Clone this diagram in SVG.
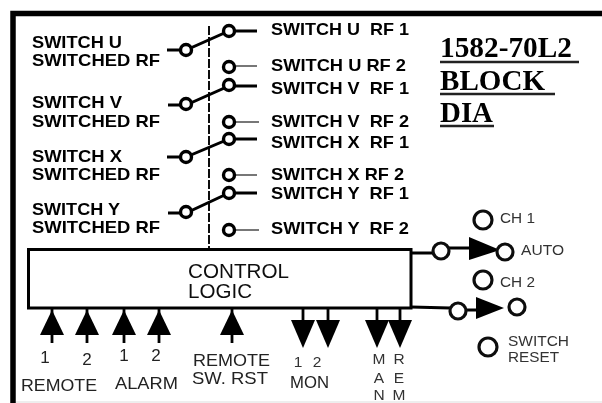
<svg xmlns="http://www.w3.org/2000/svg" width="602" height="403" viewBox="0 0 602 403">
<defs>
<filter id="soft" x="-5%" y="-5%" width="110%" height="110%"><feGaussianBlur stdDeviation="0.75"/></filter>
<g id="up"><path d="M0 -26V8" class="ln"/><path d="M-12 0H12L0 -25Z" fill="#000"/></g>
<g id="down"><path d="M0 -27V-10" class="ln"/><path d="M-12 -15H12L0 13Z" fill="#000"/></g>
</defs>
<style>
text{font-family:"Liberation Sans",Arial,sans-serif;fill:#222;white-space:pre}
.b{font-size:17px;font-weight:bold;fill:#000}
.n{font-size:17px;fill:#222}
.s{font-size:15.5px;fill:#333}
.k{font-size:20px;fill:#111}
.t{font-family:"Liberation Serif","Times New Roman",serif;font-size:29px;font-weight:bold;fill:#000}
.ln{stroke:#000;stroke-width:2.8;fill:none}
.lg{stroke:#777;stroke-width:2;fill:none}
.c{stroke:#000;stroke-width:3.4;fill:#fff}
.o{stroke:#111;stroke-width:3.2;fill:#fff}
</style>
<rect width="602" height="403" fill="#fff"/>
<g filter="url(#soft)">
<g id="frame"><path d="M13 403V13.5H602" fill="none" stroke="#000" stroke-width="5.5"/><path d="M16 402H602" stroke="#ddd" stroke-width="1"/></g>
<g id="connectors">
<path d="M209 26V249" stroke="#111" stroke-width="2" stroke-dasharray="9 2" fill="none"/>
<path class="ln" d="M167 50H186L229 31H257M168 105H186L229 86H257M167 157H186L229 139H257M168 213H186L229 193H257"/>
<path class="lg" d="M229 66H257M229 122H259M229 175H257M229 230H259"/>
<path class="ln" d="M411 253H433M449 248H470M411 307L450 308M466 310H476"/>
</g>
<g id="switch-u"><text class="b" x="32" y="48" textLength="90" lengthAdjust="spacingAndGlyphs">SWITCH U</text><text class="b" x="32" y="66" textLength="128" lengthAdjust="spacingAndGlyphs">SWITCHED RF</text><circle class="c" cx="186" cy="50" r="5.5"/><circle class="c" cx="229" cy="31" r="5.5"/><circle class="c" cx="229" cy="67" r="5.5"/><text class="b" x="271" y="35" textLength="138" lengthAdjust="spacingAndGlyphs">SWITCH U  RF 1</text><text class="b" x="271" y="71" textLength="135" lengthAdjust="spacingAndGlyphs">SWITCH U RF 2</text></g>
<g id="switch-v"><text class="b" x="32" y="108" textLength="90" lengthAdjust="spacingAndGlyphs">SWITCH V</text><text class="b" x="32" y="127" textLength="128" lengthAdjust="spacingAndGlyphs">SWITCHED RF</text><circle class="c" cx="186" cy="104" r="5.5"/><circle class="c" cx="229" cy="85" r="5.5"/><circle class="c" cx="229" cy="122" r="5.5"/><text class="b" x="271" y="94" textLength="138" lengthAdjust="spacingAndGlyphs">SWITCH V  RF 1</text><text class="b" x="271" y="127" textLength="138" lengthAdjust="spacingAndGlyphs">SWITCH V  RF 2</text></g>
<g id="switch-x"><text class="b" x="32" y="162" textLength="90" lengthAdjust="spacingAndGlyphs">SWITCH X</text><text class="b" x="32" y="180" textLength="128" lengthAdjust="spacingAndGlyphs">SWITCHED RF</text><circle class="c" cx="186" cy="157" r="5.5"/><circle class="c" cx="229" cy="139" r="5.5"/><circle class="c" cx="229" cy="175" r="5.5"/><text class="b" x="271" y="148" textLength="138" lengthAdjust="spacingAndGlyphs">SWITCH X  RF 1</text><text class="b" x="271" y="180" textLength="133" lengthAdjust="spacingAndGlyphs">SWITCH X RF 2</text></g>
<g id="switch-y"><text class="b" x="32" y="215" textLength="88" lengthAdjust="spacingAndGlyphs">SWITCH Y</text><text class="b" x="32" y="233" textLength="128" lengthAdjust="spacingAndGlyphs">SWITCHED RF</text><circle class="c" cx="186" cy="212" r="5.5"/><circle class="c" cx="229" cy="193" r="5.5"/><circle class="c" cx="229" cy="230" r="5.5"/><text class="b" x="271" y="199" textLength="138" lengthAdjust="spacingAndGlyphs">SWITCH Y  RF 1</text><text class="b" x="271" y="234" textLength="138" lengthAdjust="spacingAndGlyphs">SWITCH Y  RF 2</text></g>
<g id="title"><text class="t" x="440" y="57" textLength="132" lengthAdjust="spacingAndGlyphs">1582-70L2</text><text class="t" x="440" y="90" textLength="105" lengthAdjust="spacingAndGlyphs">BLOCK</text><text class="t" x="440" y="122" textLength="53" lengthAdjust="spacingAndGlyphs">DIA</text><path d="M440 62H579M440 94H555M440 126H494" stroke="#222" stroke-width="2.6"/></g>
<g id="control-logic"><rect x="28.5" y="249.5" width="382.5" height="58.5" fill="#fff" stroke="#000" stroke-width="3"/><text class="k" x="188" y="278" textLength="101" lengthAdjust="spacingAndGlyphs">CONTROL</text><text class="k" x="188" y="298" textLength="64" lengthAdjust="spacingAndGlyphs">LOGIC</text></g>
<g id="inputs">
<use href="#up" x="52" y="335"/><use href="#up" x="87" y="335"/><use href="#up" x="124" y="335"/><use href="#up" x="159" y="335"/><use href="#up" x="232" y="335"/>
<text class="n" x="45" y="363" text-anchor="middle">1</text><text class="n" x="87" y="365" text-anchor="middle">2</text><text class="n" x="124" y="361" text-anchor="middle">1</text><text class="n" x="156" y="361" text-anchor="middle">2</text>
<text class="n" x="21" y="391" textLength="76" lengthAdjust="spacingAndGlyphs">REMOTE</text><text class="n" x="115" y="389" textLength="63" lengthAdjust="spacingAndGlyphs">ALARM</text>
<text class="n" x="193" y="366" textLength="77" lengthAdjust="spacingAndGlyphs">REMOTE</text><text class="n" x="192" y="384" textLength="76" lengthAdjust="spacingAndGlyphs">SW. RST</text>
</g>
<g id="outputs">
<use href="#down" x="303" y="335"/><use href="#down" x="328" y="335"/><use href="#down" x="377" y="335"/><use href="#down" x="400" y="335"/>
<text class="s" x="298" y="367" text-anchor="middle">1</text><text class="s" x="317" y="367" text-anchor="middle">2</text><text class="n" x="290" y="388" textLength="39" lengthAdjust="spacingAndGlyphs">MON</text>
<text class="s" x="379" y="364" text-anchor="middle">M</text><text class="s" x="379" y="383" text-anchor="middle">A</text><text class="s" x="379" y="400" text-anchor="middle">N</text>
<text class="s" x="399" y="364" text-anchor="middle">R</text><text class="s" x="399" y="383" text-anchor="middle">E</text><text class="s" x="399" y="400" text-anchor="middle">M</text>
</g>
<g id="front-panel">
<path d="M469 237L500 250L469 260Z" fill="#000"/><path d="M476 297L504 308L476 319Z" fill="#000"/>
<circle class="o" cx="441" cy="251" r="8"/><circle class="o" cx="505" cy="252" r="8"/><circle class="o" cx="458" cy="311" r="8"/><circle class="o" cx="517" cy="307" r="8"/>
<circle class="o" cx="483" cy="220" r="9"/><circle class="o" cx="483" cy="280" r="9"/><circle class="o" cx="488" cy="347" r="9"/>
<text class="s" x="500" y="223" textLength="35" lengthAdjust="spacingAndGlyphs">CH 1</text><text class="s" x="521" y="255" textLength="43" lengthAdjust="spacingAndGlyphs">AUTO</text><text class="s" x="500" y="287" textLength="35" lengthAdjust="spacingAndGlyphs">CH 2</text><text class="s" x="508" y="346" textLength="61" lengthAdjust="spacingAndGlyphs">SWITCH</text><text class="s" x="508" y="362" textLength="51" lengthAdjust="spacingAndGlyphs">RESET</text>
</g>
</g>
</svg>
